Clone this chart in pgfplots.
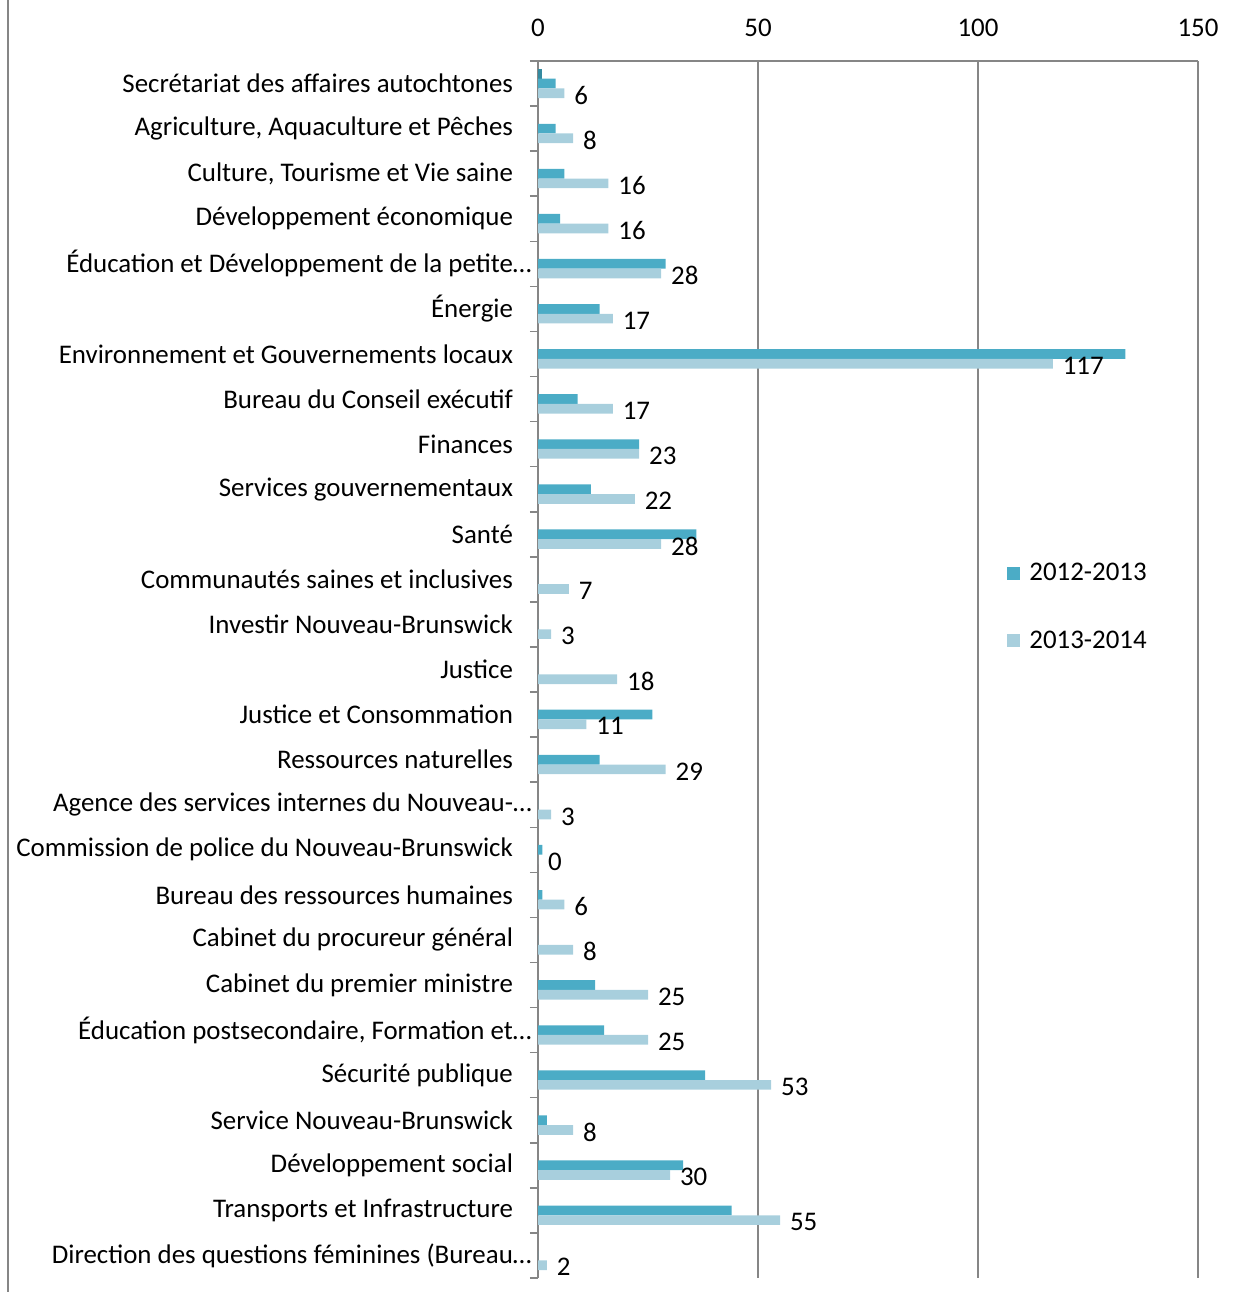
\documentclass[border=0pt]{standalone}
\usepackage{pgfplots}
\pgfplotsset{compat=1.18}
\usepackage{pgfplotstable}
\usepackage{fontspec}
\setmainfont{Carlito}
\definecolor{serA}{RGB}{52,138,160}
\definecolor{serB}{RGB}{75,172,198}
\definecolor{serC}{RGB}{168,207,221}
\definecolor{gridgray}{RGB}{134,134,134}

% idx: category (top = 0); a: unnamed series, b: 2012-2013, c: 2013-2014
\pgfplotstableread{
idx a b c
0 1 4 6
1 0 4 8
2 0 6 16
3 0 5 16
4 0 29 28
5 0 14 17
6 0 133.5 117
7 0 9 17
8 0 23 23
9 0 12 22
10 0 36 28
11 0 0 7
12 0 0 3
13 0 0 18
14 0 26 11
15 0 14 29
16 0 0 3
17 0 1 0
18 0 1 6
19 0 0 8
20 0 13 25
21 0 15 25
22 0 38 53
23 0 2 8
24 0 33 30
25 0 44 55
26 0 0 2
}\depts

\begin{document}
\begin{tikzpicture}[font=\fontsize{13.5}{16}\selectfont]
\begin{axis}[
    at={(269bp,7bp)}, anchor=south west,
    scale only axis,
    width=330bp, height=608.5bp,
    xbar, bar width=4.85bp,
    xmin=0, xmax=150,
    ymin=-0.5, ymax=26.5,
    y dir=reverse,
    axis x line*=top, axis y line*=left,
    axis line style={gridgray, line width=0.75bp, -},
    xtick={0,50,100,150},
    xtick style={draw=none},
    xmajorgrids,
    grid style={gridgray, line width=0.75bp},
    xticklabel style={yshift=4.5bp},
    ytick={-0.5,0.5,...,26.5},
    y tick label as interval,
    ytick style={gridgray, line width=0.75bp},
    tick align=outside,
    major tick length=4bp,
    yticklabel style={xshift=-5bp, anchor=east},
    yticklabels={
      Secrétariat des affaires autochtones,
      {Agriculture, Aquaculture et Pêches},
      {Culture, Tourisme et Vie saine},
      Développement économique,
      Éducation et Développement de la petite\rlap{…},
      Énergie,
      Environnement et Gouvernements locaux,
      Bureau du Conseil exécutif,
      Finances,
      Services gouvernementaux,
      Santé,
      Communautés saines et inclusives,
      Investir Nouveau-Brunswick,
      Justice,
      Justice et Consommation,
      Ressources naturelles,
      Agence des services internes du Nouveau-\rlap{…},
      Commission de police du Nouveau-Brunswick,
      Bureau des ressources humaines,
      Cabinet du procureur général,
      Cabinet du premier ministre,
      {Éducation postsecondaire, Formation et\rlap{…}},
      Sécurité publique,
      Service Nouveau-Brunswick,
      Développement social,
      Transports et Infrastructure,
      Direction des questions féminines (Bureau\rlap{…}
    },
    /pgf/number format/assume math mode=true,
    legend image code/.code={\fill[#1] (0bp,-3.25bp) rectangle (6.5bp,3.25bp);},
    legend style={at={(0.7106,0.591)}, anchor=north west, draw=none,
      fill=none, inner sep=0pt, row sep=19.5bp,
      /tikz/every odd column/.append style={column sep=2.5bp}},
    legend cell align=left,
    clip=false,
]
\addplot[fill=serA, draw=none, bar shift=4.85bp, forget plot]
    coordinates {(1,0)};
\addplot[fill=serB, draw=none, bar shift=0bp]
    table[x=b, y=idx] {\depts};
\addplot[fill=serC, draw=none, bar shift=-4.85bp,
    nodes near coords, point meta=x,
    nodes near coords style={anchor=west, xshift=1.5bp, yshift=-1bp, black}]
    table[x=c, y=idx] {\depts};
\legend{2012-2013, 2013-2014}
\end{axis}
\draw[gridgray, line width=0.75bp] (4bp,0) -- (4bp,646bp);
\pgfresetboundingbox
\path (0,0) rectangle (622bp,646bp);
\end{tikzpicture}
\end{document}
